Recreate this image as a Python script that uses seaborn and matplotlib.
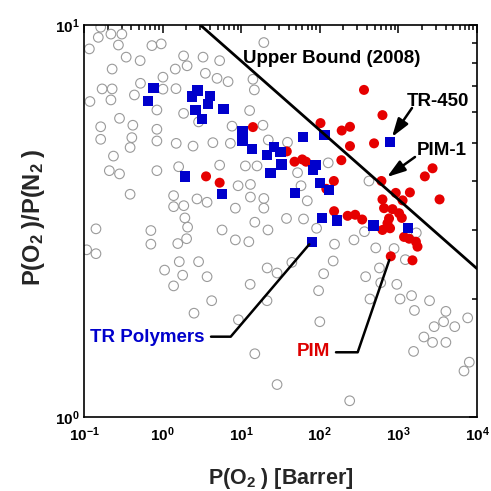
import matplotlib
matplotlib.use('Agg')
import matplotlib.pyplot as plt
import numpy as np
import pandas as pd
import seaborn as sns
from matplotlib.ticker import FixedLocator, FixedFormatter, LogLocator, NullFormatter

# ---------------- data ----------------
# Other polymers (grey open circles): P(O2) [Barrer], selectivity O2/N2
grey_p = [0.163, 0.152, 0.220, 0.303, 0.117, 0.274, 0.731, 0.960, 0.344, 0.518, 0.228, 1.85, 2.05, 1.45,
          3.27, 3.50, 0.523, 1.01, 0.170, 0.228, 0.119, 0.220, 0.438, 1.01, 1.48, 0.846, 1.85, 0.283,
          0.163, 0.418, 0.846, 2.87, 0.163, 0.406, 0.846, 0.386, 1.49, 2.44, 4.36, 0.237, 0.210, 0.283,
          0.846, 1.60, 0.386, 1.38, 1.86, 2.74, 3.68, 1.38, 1.92,
          19.4, 5.32, 4.93, 6.81, 14.1, 14.7, 12.8, 7.65, 18.9, 7.28, 22.1, 38.8, 5.32, 11.3, 15.9, 52.1,
          128, 9.13, 13.1, 57.7, 13.1, 19.4, 69.3, 8.43, 19.4, 37.7, 422,
          0.142, 0.108, 0.142, 0.709, 0.709, 1.56, 2.08, 2.02, 1.63, 2.87, 1.06, 1.80, 3.68, 1.38, 4.21, 2.51,
          5.71, 8.43, 12.5, 14.9, 21.9, 62.1, 91.0, 154, 148, 112, 21.4, 28.6, 44.1, 13.0, 21.3, 9.21,
          96.5, 100, 14.9, 28.6,
          272, 370, 515, 881, 1225, 1690, 574, 383, 596, 954, 435, 1050, 1470, 1600, 2490, 4020, 7610,
          3760, 2850, 5210, 2110, 2720, 4020, 1560, 7980, 6830, 240]
grey_sel = [9.87, 9.30, 9.48, 9.48, 8.69, 8.89, 8.86, 8.95, 8.28, 8.11, 7.72, 8.34, 7.87, 7.72,
            8.28, 7.53, 7.10, 7.36, 6.87, 6.87, 6.38, 6.44, 6.63, 6.86, 6.88, 6.07, 5.95, 5.78,
            5.50, 5.55, 5.42, 5.66, 5.11, 5.16, 5.06, 4.87, 4.99, 4.91, 5.01, 4.63, 4.25, 4.17,
            4.25, 4.35, 3.70, 3.67, 3.46, 3.60, 3.53, 3.44, 3.22,
            9.02, 8.11, 7.31, 7.17, 7.27, 6.83, 6.05, 5.52, 5.55, 4.99, 5.09, 5.02, 4.39, 4.37, 4.37, 4.20,
            4.45, 3.89, 3.92, 3.89, 3.64, 3.61, 3.56, 3.41, 3.41, 3.21, 4.00,
            3.02, 2.67, 2.61, 2.99, 2.76, 2.77, 3.05, 2.85, 2.49, 2.49, 2.37, 2.30, 2.28, 2.16, 1.98, 1.84,
            3.00, 2.83, 2.80, 3.14, 3.00, 3.20, 3.03, 2.76, 2.50, 2.32, 2.40, 2.33, 2.48, 2.18, 1.98, 1.77,
            2.10, 1.75, 1.45, 1.21,
            2.83, 2.97, 2.70, 2.69, 2.52, 2.95, 2.40, 2.28, 2.20, 2.18, 2.00, 2.00, 2.04, 1.87, 1.98, 1.86, 1.79,
            1.75, 1.70, 1.70, 1.60, 1.55, 1.55, 1.47, 1.38, 1.31, 1.10]

# TR polymers (blue squares); last one is TR-450
tr_p = [0.766, 0.650, 2.37, 2.79, 4.05, 2.63, 3.17, 3.76, 1.91, 5.98, 5.71, 10.4, 10.4, 13.8, 26.0, 31.6,
        21.4, 32.5, 23.6, 61.6, 115, 88.4, 82.6, 101, 130, 48.7, 107, 167, 482, 1320, 80.2, 783]
tr_sel = [6.90, 6.41, 6.57, 6.81, 6.59, 6.07, 5.75, 6.29, 4.11, 6.10, 3.70, 5.37, 5.06, 4.83, 4.89, 4.75,
          4.66, 4.41, 4.20, 5.18, 5.23, 4.40, 4.26, 3.95, 3.79, 3.73, 3.22, 3.17, 3.08, 3.03, 2.79, 5.02]

# PIMs (red circles); PIM-1 is the point at (608, 4.00)
pim_p = [3.57, 5.32, 14.1, 102, 190, 242, 365, 627, 242, 490, 38.0, 47.7, 59.8, 66.9, 188, 151, 121, 152,
         608, 2720, 2170, 926, 1400, 627, 1130, 3340, 657, 841, 1020, 226, 282, 346, 760, 1105, 627, 726,
         783, 1180, 1370, 1670, 1750, 800, 1510]
pim_sel = [4.11, 3.96, 5.49, 5.62, 5.38, 5.50, 6.83, 5.89, 4.91, 4.99, 4.76, 4.48, 4.54, 4.48, 4.52, 4.00,
           3.82, 3.35, 4.00, 4.31, 4.11, 3.73, 3.74, 3.59, 3.57, 3.59, 3.41, 3.39, 3.31, 3.26, 3.28, 3.19,
           3.21, 3.22, 3.00, 3.12, 3.03, 2.88, 2.85, 2.80, 2.72, 2.57, 2.51]

# Robeson 2008 upper bound end points
ub_p = [3.02, 10000]
ub_sel = [10.0, 2.39]

x_ticks = [0.1, 1, 10, 100, 1000, 10000]
x_tick_labels = ['10$^{-1}$', '10$^{0}$', '10$^{1}$', '10$^{2}$', '10$^{3}$', '10$^{4}$']
y_ticks = [1, 10]
y_tick_labels = ['10$^{0}$', '10$^{1}$']

# ---------------- style ----------------
sns.set_style('white')
plt.rcParams['font.family'] = ['Liberation Sans', 'DejaVu Sans']
plt.rcParams['font.weight'] = 'bold'
plt.rcParams['mathtext.fontset'] = 'custom'
plt.rcParams['mathtext.rm'] = 'Liberation Sans:bold'
plt.rcParams['mathtext.bf'] = 'Liberation Sans:bold'
plt.rcParams['mathtext.it'] = 'Liberation Sans:bold'
plt.rcParams['mathtext.sf'] = 'Liberation Sans:bold'
plt.rcParams['mathtext.default'] = 'rm'

BLUE = '#0000cc'
RED = '#e60000'

fig = plt.figure(figsize=(4.91, 4.91), dpi=100)
ax = fig.add_axes([84 / 491, 74 / 491, 393 / 491, 392 / 491])

grey_df = pd.DataFrame({'p': grey_p, 'sel': grey_sel})
tr_df = pd.DataFrame({'p': tr_p, 'sel': tr_sel})
pim_df = pd.DataFrame({'p': pim_p, 'sel': pim_sel})
ub_df = pd.DataFrame({'p': ub_p, 'sel': ub_sel})

sns.scatterplot(data=grey_df, x='p', y='sel', ax=ax, marker='o', s=48,
                facecolors='none', edgecolors='#9a9a9a', linewidth=0.8, zorder=2)
sns.scatterplot(data=pim_df, x='p', y='sel', ax=ax, marker='o', s=52,
                color=RED, edgecolor='none', linewidth=0, zorder=3)
sns.scatterplot(data=tr_df, x='p', y='sel', ax=ax, marker='s', s=55,
                color=BLUE, edgecolor='none', linewidth=0, zorder=4)
sns.lineplot(data=ub_df, x='p', y='sel', ax=ax, color='black', lw=2.0,
             estimator=None, sort=False, zorder=5)

ax.set_xscale('log')
ax.set_yscale('log')
ax.set_xlim(0.1, 1e4)
ax.set_ylim(1, 10)

ax.xaxis.set_major_locator(FixedLocator(x_ticks))
ax.xaxis.set_major_formatter(FixedFormatter(x_tick_labels))
ax.xaxis.set_minor_locator(LogLocator(base=10, subs=np.arange(2, 10), numticks=30))
ax.xaxis.set_minor_formatter(NullFormatter())
ax.yaxis.set_major_locator(FixedLocator(y_ticks))
ax.yaxis.set_major_formatter(FixedFormatter(y_tick_labels))
ax.yaxis.set_minor_locator(LogLocator(base=10, subs=np.arange(2, 10), numticks=30))
ax.yaxis.set_minor_formatter(NullFormatter())

ax.tick_params(which='both', direction='in', top=True, right=True, width=1.1,
               colors='black', labelsize=11)
ax.tick_params(which='major', length=6)
ax.tick_params(which='minor', length=3.5)
ax.tick_params(axis='x', which='major', pad=6)
ax.tick_params(axis='y', which='major', pad=3)
for lab in ax.get_xticklabels() + ax.get_yticklabels():
    lab.set_fontweight('bold')
for sp in ax.spines.values():
    sp.set_linewidth(1.2)
    sp.set_color('black')

ax.set_xlabel(r'P(O$_{2}\;$) [Barrer]', fontsize=15.5, fontweight='bold')
ax.xaxis.set_label_coords(0.5, -0.125)
ax.set_ylabel(r'P(O$_{2}\;$)/P(N$_{2}\;$)', fontsize=17, fontweight='bold')
ax.yaxis.set_label_coords(-0.095, 0.51)

txt = dict(transform=ax.transAxes, fontsize=13.5, fontweight='bold', ha='left', va='baseline')
ax.text(0.4046, 0.9023, 'Upper Bound (2008)', color='black', **txt)
ax.text(0.8211, 0.7934, 'TR-450', color='black', **txt)
ax.text(0.8466, 0.6684, 'PIM-1', color='black', **txt)
ax.text(0.0153, 0.1921, 'TR Polymers', color=BLUE, **txt)
ax.text(0.5412, 0.1564, 'PIM', color='#dd0000', **txt)

arrow = dict(arrowstyle='-|>,head_length=0.55,head_width=0.18', color='black', lw=1.8,
             mutation_scale=20, shrinkA=0, shrinkB=0)
ax.annotate('', xy=(0.7837, 0.7143), xytext=(0.8346, 0.7883), xycoords='axes fraction',
            textcoords='axes fraction', arrowprops=arrow, zorder=6)
ax.annotate('', xy=(0.7710, 0.6122), xytext=(0.8422, 0.6633), xycoords='axes fraction',
            textcoords='axes fraction', arrowprops=arrow, zorder=6)

ax.plot([0.3232, 0.3733, 0.5733], [0.2049, 0.2049, 0.4406], color='black', lw=1.8,
        transform=ax.transAxes, zorder=6)
ax.plot([0.6412, 0.6964, 0.7768], [0.1651, 0.1651, 0.4005], color='black', lw=1.8,
        transform=ax.transAxes, zorder=6)

fig.savefig('out.png', dpi=100)
